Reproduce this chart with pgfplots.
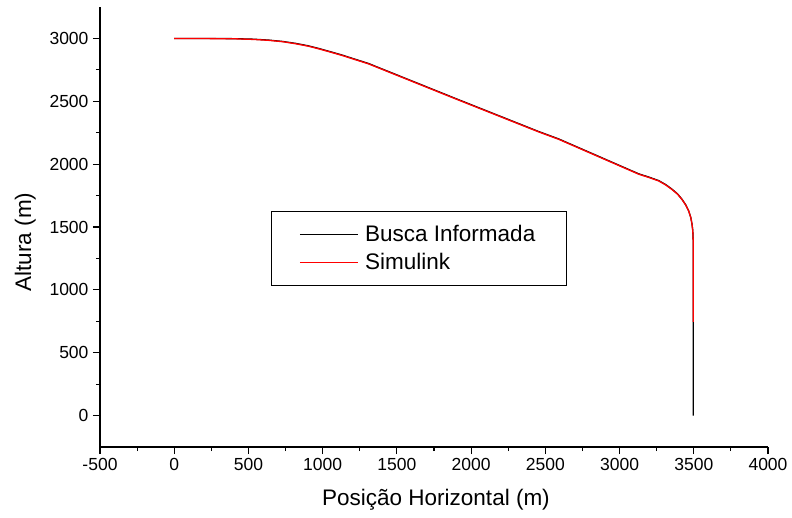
\documentclass[border=0pt]{standalone}
\usepackage{pgfplots}
\pgfplotsset{compat=1.18}
\usepackage{fontspec}
\setmainfont{Liberation Sans}
\pgfplotstableread{
x y
0 3000
200 3000
411 2998
534 2994
634 2987
730 2976
816 2961
900 2942
971 2921
1050 2895
1130 2868
1220 2834
1308 2801
1900 2520
2454 2260
2589 2201
3129 1923
3200 1896
3264 1869
3310 1838
3351 1803
3390 1764
3419 1723
3445 1678
3466 1627
3480 1575
3488 1523
3493 1475
3495 1427
3497 1360
3497 745
3497 0
}\busca
\pgfplotstableread{
x y
0 3000
200 2999
411 2997
534 2992
634 2985
730 2974
816 2958
900 2939
971 2918
1050 2892
1130 2865
1220 2831
1308 2798
1900 2517
2454 2257
2589 2198
3129 1920
3200 1893
3264 1866
3310 1835
3351 1800
3390 1762
3419 1721
3445 1676
3466 1626
3480 1574
3488 1522
3493 1474
3495 1427
3497 1360
3497 745
}\simul
\begin{document}
\begin{tikzpicture}
\begin{axis}[
  scale only axis,
  width=668pt, height=440pt,
  xmin=-500, xmax=4000, ymin=-250, ymax=3250,
  axis x line=bottom, axis y line=left,
  axis line style={-, line width=1.3pt},
  xtick={-500,0,...,4000}, ytick={0,500,...,3000},
  minor tick num=1,
  tick align=outside,
  major tick length=7pt, minor tick length=4pt,
  every tick/.style={black, line width=1.2pt},
  /pgf/number format/assume math mode=true,
  /pgf/number format/1000 sep={},
  tick label style={font=\fontsize{17.5}{20}\selectfont},
  xticklabel style={yshift=-1pt},
  yticklabel style={xshift=-1pt},
  xlabel={Posição Horizontal (m)},
  ylabel={Altura (m)},
  label style={font=\fontsize{22.5}{26}\selectfont},
  xlabel style={at={(axis description cs:0.503,-0.12)}, anchor=center},
  ylabel style={at={(axis description cs:-0.112,0.466)}, anchor=center},
  legend cell align=left,
  legend style={at={(rel axis cs:0.256,0.536)}, anchor=north west,
    draw=black, line width=0.8pt, font=\fontsize{22.5}{26}\selectfont,
    inner xsep=28pt, inner ysep=11pt, row sep=4pt,
    nodes={inner sep=3pt},
    /tikz/every odd column/.append style={column sep=4pt}},
  legend image code/.code={\draw[#1, line width=0.8pt] (0pt,0pt) -- (58pt,0pt);},
]
\addplot[black, line width=1.3pt] table[x=x,y=y] {\busca};
\addlegendentry{Busca Informada}
\addplot[red, line width=1.3pt] table[x=x,y=y] {\simul};
\addlegendentry{Simulink}
\end{axis}
\pgfresetboundingbox
\path[use as bounding box] (-100pt,-70pt) rectangle (692pt,447pt);
\end{tikzpicture}
\end{document}
